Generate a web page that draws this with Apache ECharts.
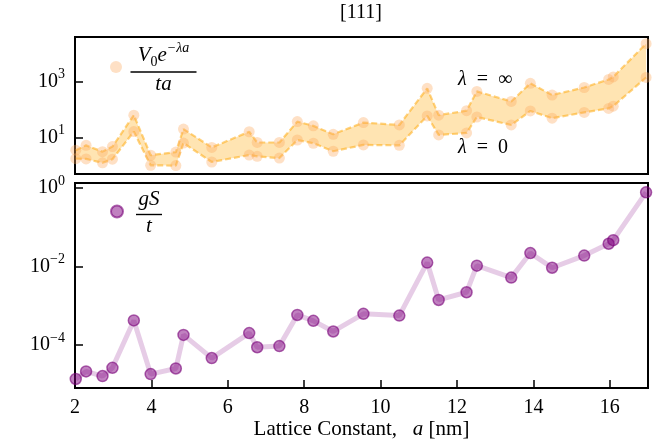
<!DOCTYPE html>
<html><head><meta charset="utf-8">
<script src="https://cdn.jsdelivr.net/npm/echarts@6/dist/echarts.min.js"></script>
<style>html,body{margin:0;padding:0;background:#fff}#c{width:668px;height:443px}</style>
</head><body><div id="c"></div>
<script>
// ---- data ----
const latticeA = [2.02, 2.29, 2.72, 2.98, 3.54, 3.98, 4.64, 4.84, 5.58, 6.56, 6.77, 7.35, 7.82, 8.24, 8.76, 9.55, 10.49, 11.22, 11.52, 12.25, 12.52, 13.42, 13.92, 14.49, 15.33, 15.97, 16.09, 16.95];
const upperInf = [3.5, 5.2, 3.1, 4.7, 63, 2.3, 3.0, 20, 4.4, 16, 6.6, 6.6, 37, 26, 13, 34, 28, 575, 63, 91, 447, 195, 871, 331, 617, 1200, 1480, 22900];
const lowerZero = [1.74, 1.7, 1.23, 1.66, 16.2, 1.0, 0.98, 6.3, 1.32, 2.34, 2.1, 1.82, 8.1, 6.2, 3.2, 5.4, 5.2, 59, 12.3, 14.5, 54, 28, 89, 49, 79, 110, 132, 1410];
const gSt = [1.35e-5, 2.1e-5, 1.6e-5, 2.6e-5, 4.2e-4, 1.8e-5, 2.5e-5, 1.8e-4, 4.6e-5, 2.0e-4, 8.7e-5, 9.3e-5, 5.8e-4, 4.1e-4, 2.2e-4, 6.2e-4, 5.6e-4, 1.26e-2, 1.4e-3, 2.2e-3, 1.05e-2, 5.2e-3, 2.2e-2, 9.3e-3, 1.9e-2, 3.8e-2, 4.7e-2, 0.78];
const xTicks = [2, 4, 6, 8, 10, 12, 14, 16];
const topTicks = [10, 1000];
const bottomTicks = [1e-4, 1e-2, 1];

// ---- chart ----
const SERIF = 'Liberation Serif';
const FS = 20;
const pairs = (ys) => latticeA.map((a, i) => [a, ys[i]]);
function powLabel(v) {
  const e = Math.round(Math.log10(v));
  return '{b|10}{e|' + (e < 0 ? '\u2212' + (-e) : String(e)) + '}';
}
const yRich = {
  b: {fontFamily: SERIF, fontSize: FS, lineHeight: 28, color: '#000'},
  e: {fontFamily: SERIF, fontSize: 14, verticalAlign: 'top', color: '#000'}
};
function yAxisCfg(grid, min, max, ticks) {
  return {
    type: 'log', logBase: 10, gridIndex: grid, min: min, max: max,
    axisLine: {show: false}, splitLine: {show: false}, minorTick: {show: false},
    axisTick: {show: true, inside: true, length: 8, customValues: ticks, lineStyle: {color: '#000', width: 1.5}},
    axisLabel: {customValues: ticks, formatter: powLabel, rich: yRich, margin: 10, color: '#000'}
  };
}
const fracBase = {fontFamily: SERIF, color: '#000', align: 'center'};
const it = (o) => Object.assign({fontSize: 21, fontStyle: 'italic'}, fracBase, o);
const chart = echarts.init(document.getElementById('c'), null, {renderer: 'canvas'});
chart.setOption({
  animation: false,
  backgroundColor: '#fff',
  title: {text: '[111]', left: 361, top: 3, padding: 0, textAlign: 'center',
    textStyle: {fontFamily: SERIF, fontSize: FS, fontWeight: 'normal', color: '#000'}},
  grid: [
    {left: 75, top: 37, width: 573, height: 137, show: true, borderColor: '#000', borderWidth: 2, backgroundColor: 'transparent'},
    {left: 75, top: 183, width: 573, height: 205, show: true, borderColor: '#000', borderWidth: 2, backgroundColor: 'transparent'}
  ],
  xAxis: [
    {type: 'value', gridIndex: 0, min: 2, max: 17, interval: 2, axisLine: {show: false}, axisTick: {show: false}, axisLabel: {show: false}, splitLine: {show: false}},
    {type: 'value', gridIndex: 1, min: 2, max: 17, interval: 2, axisLine: {show: false}, splitLine: {show: false},
      axisTick: {show: true, inside: true, length: 8, customValues: xTicks, lineStyle: {color: '#000', width: 1.5}},
      axisLabel: {customValues: xTicks, fontFamily: SERIF, fontSize: FS, color: '#000', margin: 10},
      name: 'Lattice Constant,\u2002 {i|a} [nm]', nameLocation: 'middle', nameGap: 31,
      nameTextStyle: {fontFamily: SERIF, fontSize: 21, color: '#000',
        rich: {i: {fontFamily: SERIF, fontSize: 21, fontStyle: 'italic', color: '#000'}}}}
  ],
  yAxis: [
    yAxisCfg(0, Math.pow(10, -0.31), Math.pow(10, 4.6), topTicks),
    yAxisCfg(1, Math.pow(10, -5.1), Math.pow(10, 0.13), bottomTicks)
  ],
  legend: [
    {data: [{name: 'Vexp', icon: 'circle'}], left: 110, top: 41, itemWidth: 19, itemHeight: 12, itemGap: 0, padding: 0, selectedMode: false,
      formatter: () => '{n|V}{sub|0}{n|e}{sup|\u2212\u03bba}\n{bar| }\n{d|ta}',
      textStyle: {rich: {
        n: it({lineHeight: 28}),
        sub: Object.assign({fontSize: 14, verticalAlign: 'bottom', lineHeight: 28}, fracBase),
        sup: it({fontSize: 14, verticalAlign: 'top', lineHeight: 28}),
        bar: Object.assign({width: 66, height: 1.4, backgroundColor: '#000', fontSize: 1, lineHeight: 6}, fracBase),
        d: it({lineHeight: 18})
      }}},
    {data: [{name: 'gSt', icon: 'circle'}], left: 110, top: 189, itemWidth: 28, itemHeight: 12, itemGap: 0, padding: 0, selectedMode: false,
      formatter: () => '{n|gS}\n{bar| }\n{d|t}',
      textStyle: {rich: {
        n: it({lineHeight: 24}),
        bar: Object.assign({width: 26, height: 1.4, backgroundColor: '#000', fontSize: 1, lineHeight: 6}, fracBase),
        d: it({lineHeight: 18})
      }}}
  ],
  graphic: [
    {type: 'text', x: 458, y: 70, z: 50, style: {text: '{i|\u03bb}\u2002=\u2002\u221e', fill: '#000', font: FS + 'px "Liberation Serif"',
      rich: {i: {fontFamily: SERIF, fontSize: FS, fontStyle: 'italic', fill: '#000'}}}},
    {type: 'text', x: 458, y: 138, z: 50, style: {text: '{i|\u03bb}\u2002=\u20020', fill: '#000', font: FS + 'px "Liberation Serif"',
      rich: {i: {fontFamily: SERIF, fontSize: FS, fontStyle: 'italic', fill: '#000'}}}}
  ],
  series: [
    {type: 'custom', name: 'band', xAxisIndex: 0, yAxisIndex: 0, silent: true, clip: true, z: 1,
      data: [[latticeA[0], upperInf[0]]],
      renderItem: function (params, api) {
        const pts = [];
        for (let i = 0; i < latticeA.length; i++) pts.push(api.coord([latticeA[i], upperInf[i]]));
        for (let i = latticeA.length - 1; i >= 0; i--) pts.push(api.coord([latticeA[i], lowerZero[i]]));
        return {type: 'polygon', shape: {points: pts}, style: {fill: 'rgba(255,165,0,0.3)'}};
      }},
    {type: 'line', name: 'inf', xAxisIndex: 0, yAxisIndex: 0, data: pairs(upperInf), showSymbol: false, z: 2, silent: true,
      lineStyle: {color: 'rgba(255,165,0,0.5)', width: 2.2, type: [6, 3]}},
    {type: 'line', name: 'zero', xAxisIndex: 0, yAxisIndex: 0, data: pairs(lowerZero), showSymbol: false, z: 2, silent: true,
      lineStyle: {color: 'rgba(255,165,0,0.5)', width: 2.2, type: [6, 3]}},
    {type: 'scatter', name: 'Vexp', xAxisIndex: 0, yAxisIndex: 0, data: pairs(upperInf).concat(pairs(lowerZero)), symbolSize: 11, z: 3,
      itemStyle: {color: 'rgba(253,170,95,0.45)'}},
    {type: 'line', name: 'gSline', xAxisIndex: 1, yAxisIndex: 1, data: pairs(gSt), showSymbol: false, z: 2, silent: true,
      lineStyle: {color: 'rgba(128,0,128,0.2)', width: 5}},
    {type: 'scatter', name: 'gSt', xAxisIndex: 1, yAxisIndex: 1, data: pairs(gSt), symbolSize: 11, z: 3,
      itemStyle: {color: 'rgba(128,0,128,0.62)', borderColor: 'rgba(120,0,120,0.75)', borderWidth: 1.5}}
  ]
});
</script>
</body></html>
